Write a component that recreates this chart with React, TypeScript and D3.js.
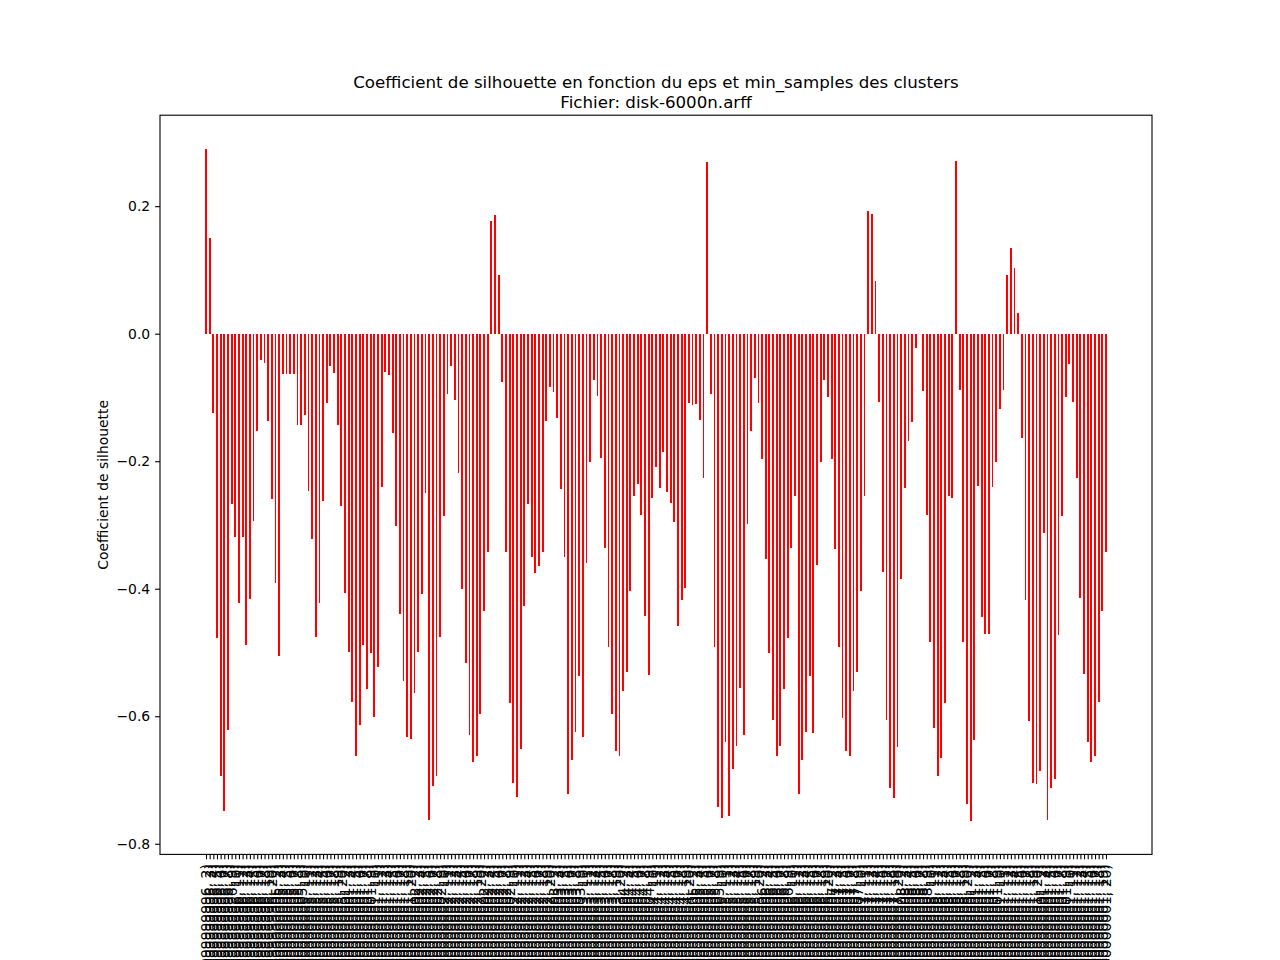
import React, { useEffect, useRef } from "react";
import * as d3 from "d3";

const epsValues: string[] = [
  "0.049999999999999996",
  "0.060000000000000005",
  "0.07000000000000001",
  "0.08000000000000002",
  "0.09000000000000002",
  "0.10000000000000003",
  "0.11000000000000004",
  "0.12000000000000005",
  "0.13000000000000006",
  "0.14000000000000007",
  "0.15000000000000008",
  "0.1600000000000001",
  "0.1700000000000001",
];

const minSamplesValues: number[] = [2, 3, 4, 5, 6, 7, 8, 9, 10, 11, 12, 13, 14, 15, 16, 17, 18, 19, 20];

const silhouette: number[] = [
  0.29, 0.15, -0.124, -0.478, -0.694, -0.748, -0.622, -0.267, -0.319, -0.422,
  -0.319, -0.489, -0.416, -0.294, -0.153, -0.042, -0.046, -0.137, -0.26, -0.391,
  -0.506, -0.063, -0.063, -0.063, -0.063, -0.143, -0.143, -0.127, -0.246, -0.322,
  -0.475, -0.422, -0.263, -0.109, -0.05, -0.061, -0.143, -0.271, -0.406, -0.5,
  -0.577, -0.663, -0.614, -0.488, -0.558, -0.501, -0.601, -0.522, -0.24, -0.06,
  -0.065, -0.155, -0.301, -0.439, -0.545, -0.633, -0.635, -0.564, -0.5, -0.409,
  -0.25, -0.762, -0.71, -0.694, -0.475, -0.286, -0.094, -0.05, -0.104, -0.218,
  -0.401, -0.517, -0.629, -0.671, -0.663, -0.596, -0.435, -0.343, 0.177, 0.186,
  0.092, -0.076, -0.343, -0.58, -0.705, -0.726, -0.652, -0.427, -0.267, -0.351,
  -0.375, -0.365, -0.343, -0.137, -0.083, -0.091, -0.132, -0.243, -0.351, -0.722,
  -0.669, -0.625, -0.537, -0.633, -0.36, -0.201, -0.073, -0.098, -0.195, -0.336,
  -0.491, -0.597, -0.655, -0.663, -0.56, -0.53, -0.403, -0.255, -0.235, -0.284,
  -0.442, -0.535, -0.258, -0.209, -0.242, -0.185, -0.248, -0.265, -0.296, -0.458,
  -0.417, -0.399, -0.109, -0.112, -0.111, -0.135, -0.227, 0.269, -0.094, -0.491,
  -0.742, -0.759, -0.64, -0.757, -0.682, -0.647, -0.555, -0.629, -0.298, -0.153,
  -0.069, -0.109, -0.196, -0.353, -0.501, -0.606, -0.662, -0.646, -0.558, -0.478,
  -0.336, -0.255, -0.722, -0.669, -0.625, -0.537, -0.627, -0.363, -0.201, -0.073,
  -0.099, -0.196, -0.337, -0.491, -0.602, -0.655, -0.663, -0.56, -0.53, -0.403,
  -0.255, 0.192, 0.188, 0.083, -0.107, -0.373, -0.606, -0.712, -0.729, -0.649,
  -0.384, -0.242, -0.168, -0.138, -0.022, 0.0, -0.09, -0.284, -0.483, -0.619,
  -0.694, -0.666, -0.58, -0.255, -0.258, 0.271, -0.088, -0.484, -0.737, -0.764,
  -0.638, -0.239, -0.444, -0.471, -0.471, -0.24, -0.202, -0.118, -0.088, 0.092,
  0.135, 0.103, 0.032, -0.163, -0.417, -0.608, -0.705, -0.707, -0.686, -0.312,
  -0.763, -0.713, -0.698, -0.472, -0.286, -0.099, -0.047, -0.107, -0.227, -0.414,
  -0.533, -0.64, -0.671, -0.663, -0.577, -0.435, -0.343,
];

const yTicks: number[] = [-0.8, -0.6, -0.4, -0.2, 0.0, 0.2];

const titleLines: string[] = [
  "Coefficient de silhouette en fonction du eps et min_samples des clusters",
  "Fichier: disk-6000n.arff",
];
const yLabel = "Coefficient de silhouette";

const labels: string[] = [];
epsValues.forEach((e) => {
  minSamplesValues.forEach((m) => {
    labels.push(`(${e}, ${m})`);
  });
});

export default function App() {
  const ref = useRef<SVGSVGElement>(null);

  useEffect(() => {
    const svg = d3.select(ref.current);
    svg.selectAll("*").remove();
    const font = "'DejaVu Sans', sans-serif";
    const left = 160, right = 1152, top = 115.2, bottom = 854.4;
    const n = silhouette.length;
    const bw = 0.5;
    const span = n - 1 + bw;
    const x = d3
      .scaleLinear()
      .domain([-bw / 2 - 0.05 * span, n - 1 + bw / 2 + 0.05 * span])
      .range([left, right]);
    const ymax = d3.max(silhouette) as number;
    const ymin = d3.min(silhouette) as number;
    const ys = ymax - ymin;
    const y = d3
      .scaleLinear()
      .domain([ymin - 0.05 * ys, ymax + 0.05 * ys])
      .range([bottom, top]);

    svg.append("rect").attr("width", 1280).attr("height", 960).attr("fill", "#fff");

    // bars
    svg
      .append("g")
      .attr("shape-rendering", "crispEdges")
      .selectAll("rect")
      .data(silhouette)
      .join("rect")
      .attr("x", (_d, i) => x(i - bw / 2))
      .attr("width", (_d, i) => x(i + bw / 2) - x(i - bw / 2))
      .attr("y", (d) => y(Math.max(0, d)))
      .attr("height", (d) => Math.abs(y(d) - y(0)))
      .attr("fill", "#ff0000");

    // y axis
    const yAxis = svg
      .append("g")
      .attr("transform", `translate(${left},0)`)
      .call(
        d3
          .axisLeft(y)
          .tickValues(yTicks)
          .tickSize(4.9)
          .tickPadding(4.9)
          .tickFormat((d) => d3.format(".1f")(d as number))
      );
    yAxis.select(".domain").remove();
    yAxis.selectAll("line").attr("stroke", "#000").attr("stroke-width", 1.1);
    yAxis
      .selectAll("text")
      .attr("font-family", font)
      .attr("font-size", 13.9)
      .attr("fill", "#000");

    // x axis
    const xAxis = svg
      .append("g")
      .attr("transform", `translate(0,${bottom})`)
      .call(
        d3
          .axisBottom(x)
          .tickValues(d3.range(n))
          .tickSize(4.9)
          .tickFormat((d) => labels[d as number])
      );
    xAxis.select(".domain").remove();
    xAxis.selectAll("line").attr("stroke", "#000").attr("stroke-width", 1.1);
    xAxis
      .selectAll("text")
      .attr("font-family", font)
      .attr("font-size", 13.9)
      .attr("fill", "#000")
      .attr("transform", "rotate(-90)")
      .attr("text-anchor", "end")
      .attr("x", -9.8)
      .attr("y", 0)
      .attr("dy", "0.35em");

    // spines
    svg
      .append("rect")
      .attr("x", left)
      .attr("y", top)
      .attr("width", right - left)
      .attr("height", bottom - top)
      .attr("fill", "none")
      .attr("stroke", "#000")
      .attr("stroke-width", 1.1);

    // title
    svg
      .append("g")
      .selectAll("text")
      .data(titleLines)
      .join("text")
      .attr("x", (left + right) / 2)
      .attr("y", (_d, i) => 88 + i * 19.5)
      .attr("text-anchor", "middle")
      .attr("font-family", font)
      .attr("font-size", 16.67)
      .attr("fill", "#000")
      .text((d) => d);

    // y label
    svg
      .append("text")
      .attr("transform", `translate(108,${(top + bottom) / 2}) rotate(-90)`)
      .attr("text-anchor", "middle")
      .attr("font-family", font)
      .attr("font-size", 13.9)
      .attr("fill", "#000")
      .text(yLabel);
  }, []);

  return (
    <svg
      ref={ref}
      width={1280}
      height={960}
      style={{ position: "absolute", left: 0, top: 0, display: "block" }}
    />
  );
}
